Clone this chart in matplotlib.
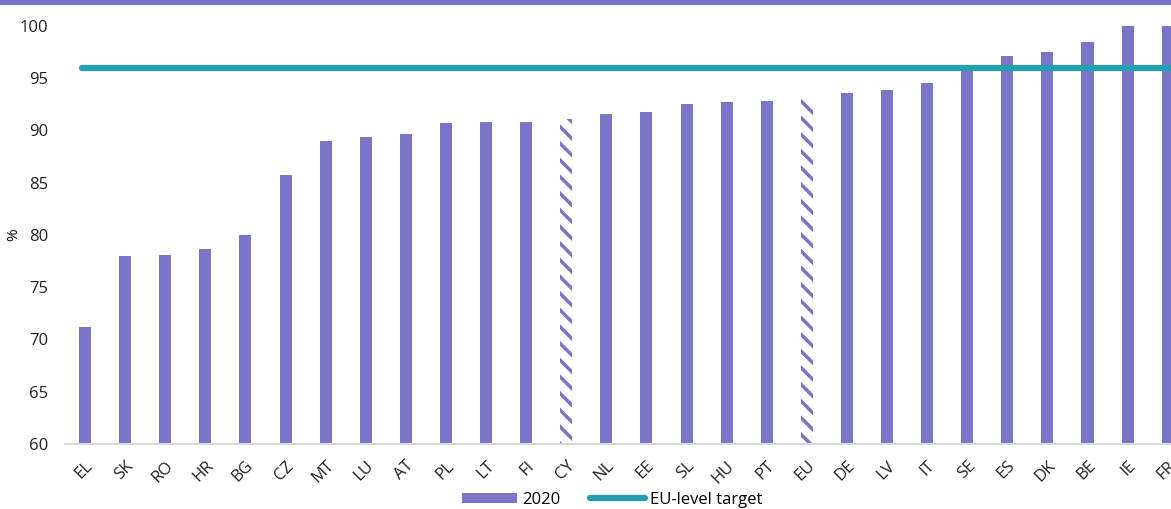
import matplotlib
matplotlib.use("Agg")
import matplotlib.pyplot as plt
from matplotlib.patches import Patch, Rectangle
from matplotlib.lines import Line2D
import numpy as np

plt.rcParams['font.family'] = ['Open Sans', 'DejaVu Sans']
plt.rcParams['hatch.linewidth'] = 2.5

countries = ['EL', 'SK', 'RO', 'HR', 'BG', 'CZ', 'MT', 'LU', 'AT', 'PL', 'LT', 'FI', 'CY', 'NL',
             'EE', 'SL', 'HU', 'PT', 'EU', 'DE', 'LV', 'IT', 'SE', 'ES', 'DK', 'BE', 'IE', 'FR']
values_2020 = [71.2, 78.0, 78.1, 78.7, 80.0, 85.7, 89.0, 89.4, 89.7, 90.7, 90.8, 90.8, 91.1, 91.6,
               91.8, 92.5, 92.7, 92.8, 93.0, 93.6, 93.9, 94.5, 96.1, 97.1, 97.5, 98.5, 100.0, 100.0]
hatched = ['CY', 'EU']
target = 96

purple = '#7B75C8'
teal = '#23A0B0'

fig = plt.figure(figsize=(11.71, 5.09), dpi=100)
ax = fig.add_axes([65 / 1171, 65 / 509, 1 - 65 / 1171, (444 - 26) / 509])

x = np.arange(len(countries))
for i, (c, v) in enumerate(zip(countries, values_2020)):
    if c in hatched:
        ax.bar(i, v - 60, bottom=60, width=0.3, color='white', edgecolor=purple,
               hatch='\\\\', linewidth=0)
    else:
        ax.bar(i, v - 60, bottom=60, width=0.3, color=purple, linewidth=0)

ax.plot([-0.07, 30], [target, target], color=teal, linewidth=4.5, solid_capstyle='round', zorder=3)

ax.set_xlim(-0.5, (1171 - 85) / 40.1)
ax.set_ylim(60, 100)
ax.set_yticks(range(60, 101, 5))
ax.set_xticks(x)
ax.set_xticklabels(countries, rotation=45, ha='right', rotation_mode='anchor')
ax.tick_params(axis='both', length=0, labelsize=12, colors='#222222')
ax.tick_params(axis='x', pad=10)
ax.tick_params(axis='y', pad=12)
for s in ['top', 'right', 'left']:
    ax.spines[s].set_visible(False)
ax.spines['bottom'].set_color('#d9d9d9')
ax.spines['bottom'].set_linewidth(1.5)
ax.set_ylabel('%', fontsize=11, labelpad=8)
ax.yaxis.set_label_coords(-0.04, 0.5)

handles = [Patch(facecolor=purple, edgecolor='none'),
           Line2D([0], [0], color=teal, linewidth=4.5, solid_capstyle='round')]
fig.legend(handles, ['2020', 'EU-level target'], loc='center', bbox_to_anchor=(612 / 1171, 1 - 500 / 509),
           ncol=2, frameon=False, fontsize=12, handlelength=3.3, handleheight=0.6,
           columnspacing=1.8, handletextpad=0.3)

fig.add_artist(Rectangle((0, 1 - 5 / 509), 1, 5 / 509, transform=fig.transFigure,
                         facecolor=purple, edgecolor='none'))

fig.savefig('out.png', dpi=100)
